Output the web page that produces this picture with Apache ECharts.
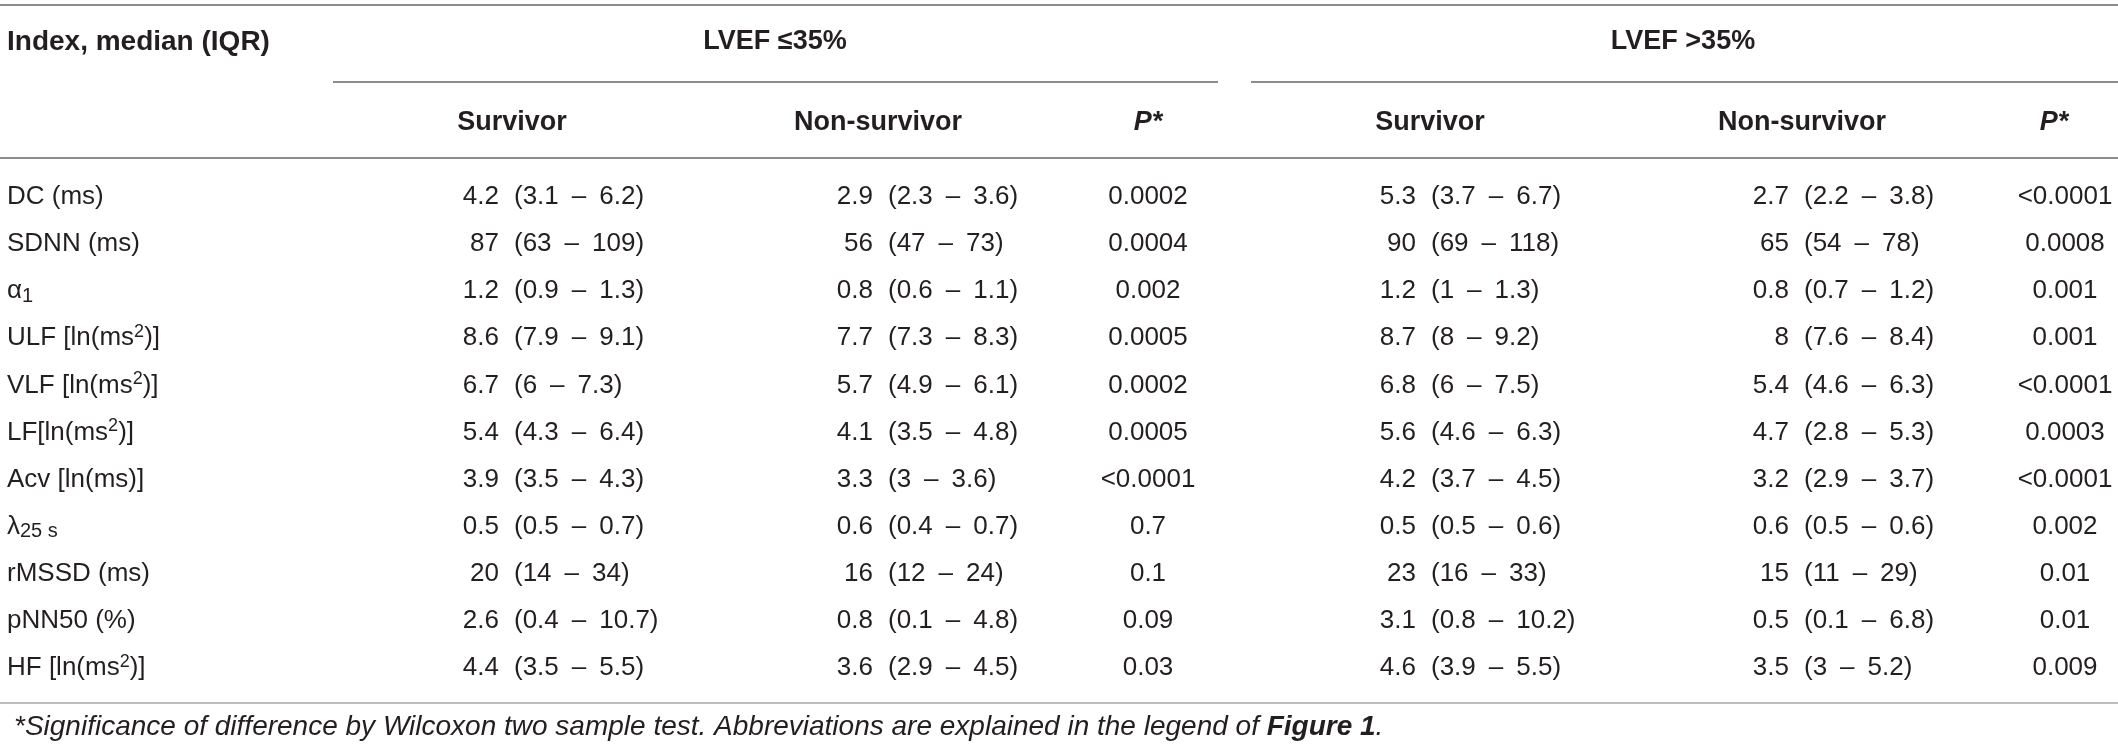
<!DOCTYPE html>
<html>
<head>
<meta charset="utf-8">
<script src="https://cdn.jsdelivr.net/npm/echarts@6/dist/echarts.min.js"></script>
<style>
  html, body { margin: 0; padding: 0; background: #fff; }
  #container { width: 2118px; height: 751px; }
</style>
</head>
<body>
<div id="container"></div>
<script>
// table content
var rowLabels = ['DC (ms)', 'SDNN (ms)', 'α_1', 'ULF [ln(ms^2)]', 'VLF [ln(ms^2)]', 'LF[ln(ms^2)]',
  'Acv [ln(ms)]', 'λ_25 s', 'rMSSD (ms)', 'pNN50 (%)', 'HF [ln(ms^2)]'];

var lowSurvivor = ['4.2 (3.1 – 6.2)', '87 (63 – 109)', '1.2 (0.9 – 1.3)', '8.6 (7.9 – 9.1)', '6.7 (6 – 7.3)',
  '5.4 (4.3 – 6.4)', '3.9 (3.5 – 4.3)', '0.5 (0.5 – 0.7)', '20 (14 – 34)', '2.6 (0.4 – 10.7)', '4.4 (3.5 – 5.5)'];
var lowNonSurvivor = ['2.9 (2.3 – 3.6)', '56 (47 – 73)', '0.8 (0.6 – 1.1)', '7.7 (7.3 – 8.3)', '5.7 (4.9 – 6.1)',
  '4.1 (3.5 – 4.8)', '3.3 (3 – 3.6)', '0.6 (0.4 – 0.7)', '16 (12 – 24)', '0.8 (0.1 – 4.8)', '3.6 (2.9 – 4.5)'];
var lowP = ['0.0002', '0.0004', '0.002', '0.0005', '0.0002', '0.0005', '<0.0001', '0.7', '0.1', '0.09', '0.03'];

var highSurvivor = ['5.3 (3.7 – 6.7)', '90 (69 – 118)', '1.2 (1 – 1.3)', '8.7 (8 – 9.2)', '6.8 (6 – 7.5)',
  '5.6 (4.6 – 6.3)', '4.2 (3.7 – 4.5)', '0.5 (0.5 – 0.6)', '23 (16 – 33)', '3.1 (0.8 – 10.2)', '4.6 (3.9 – 5.5)'];
var highNonSurvivor = ['2.7 (2.2 – 3.8)', '65 (54 – 78)', '0.8 (0.7 – 1.2)', '8 (7.6 – 8.4)', '5.4 (4.6 – 6.3)',
  '4.7 (2.8 – 5.3)', '3.2 (2.9 – 3.7)', '0.6 (0.5 – 0.6)', '15 (11 – 29)', '0.5 (0.1 – 6.8)', '3.5 (3 – 5.2)'];
var highP = ['<0.0001', '0.0008', '0.001', '0.001', '<0.0001', '0.0003', '<0.0001', '0.002', '0.01', '0.01', '0.009'];

var stubHeader = 'Index, median (IQR)';
var groupHeaders = ['LVEF ≤35%', 'LVEF >35%'];
var subHeaders = ['Survivor', 'Non-survivor', 'P*'];
var footnote = '*Significance of difference by Wilcoxon two sample test. Abbreviations are explained in the legend of ';
var footnoteRef = 'Figure 1';

// layout
var W = 2118, H = 751;
var FONT = '"Liberation Sans", Arial, sans-serif';
var INK = '#231f20';
var columns = [rowLabels, lowSurvivor, lowNonSurvivor, lowP, highSurvivor, highNonSurvivor, highP];
var colKind = ['label', 'iqr', 'iqr', 'p', 'iqr', 'iqr', 'p'];
var colAnchor = [7, 499, 873, 1148, 1416, 1789, 2065];
var subHeaderX = [512, 878, 1148, 1430, 1802, 2054];
var groupX = [775, 1683];
var rowTop = 173.5, rowBottom = 59.5;

var rich = {
  sup: { fontSize: 18, fontFamily: FONT, fill: INK, verticalAlign: 'top', lineHeight: 18 },
  sub: { fontSize: 20, fontFamily: FONT, fill: INK, verticalAlign: 'bottom', lineHeight: 16 }
};

function labelRich(s) {
  return s.replace(/\^(\w+)/g, '{sup|$1}').replace(/_(.+)$/, '{sub|$1}');
}

var cells = [];
rowLabels.forEach(function (r, i) {
  columns.forEach(function (col, c) { cells.push([c, i]); });
});

function renderItem(params, api) {
  var c = api.value(0), r = api.value(1);
  var pt = api.coord([colAnchor[c], r]);
  var s = columns[c][r];
  var base = { fill: INK, fontSize: 26, fontFamily: FONT, verticalAlign: 'middle', lineHeight: 30 };
  if (colKind[c] === 'label') {
    return { type: 'text', x: pt[0], y: pt[1],
      style: Object.assign({}, base, { text: labelRich(s), rich: rich, align: 'left' }) };
  }
  if (colKind[c] === 'p') {
    return { type: 'text', x: pt[0], y: pt[1],
      style: Object.assign({}, base, { text: s, align: 'center' }) };
  }
  var k = s.indexOf(' (');
  var med = s.slice(0, k);
  var iqr = s.slice(k + 1).replace(/ /g, '\u2002');
  return { type: 'group', children: [
    { type: 'text', x: pt[0], y: pt[1], style: Object.assign({}, base, { text: med, align: 'right' }) },
    { type: 'text', x: pt[0] + 15, y: pt[1], style: Object.assign({}, base, { text: iqr, align: 'left' }) }
  ] };
}

function hLine(x1, x2, y, color) {
  return { type: 'line', shape: { x1: x1, y1: y, x2: x2, y2: y }, style: { stroke: color, lineWidth: 2 } };
}
function headText(x, y, text, align, extra) {
  return { type: 'text', x: x, y: y, style: Object.assign({ text: text, fill: INK, fontSize: 27,
    fontWeight: 'bold', fontFamily: FONT, align: align, verticalAlign: 'middle' }, extra || {}) };
}

var graphics = [
  hLine(0, W, 5, '#8c8c8c'),
  hLine(333, 1218, 82, '#8c8c8c'),
  hLine(1251, W, 82, '#8c8c8c'),
  hLine(0, W, 158, '#8c8c8c'),
  hLine(0, W, 703, '#bdbdbd'),
  headText(7, 42, stubHeader, 'left', { fontSize: 28 }),
  headText(groupX[0], 42, groupHeaders[0], 'center'),
  headText(groupX[1], 42, groupHeaders[1], 'center')
];
subHeaderX.forEach(function (x, i) {
  var h = subHeaders[i % 3];
  graphics.push(headText(x, 123, h, 'center', h === 'P*' ? { fontStyle: 'italic' } : null));
});
graphics.push({ type: 'text', x: 14, y: 727, style: {
  text: '{i|' + footnote + '}{b|' + footnoteRef + '}{i|.}',
  verticalAlign: 'middle', align: 'left',
  rich: {
    i: { fontSize: 28, fontStyle: 'italic', fontFamily: FONT, fill: INK },
    b: { fontSize: 28, fontStyle: 'italic', fontWeight: 'bold', fontFamily: FONT, fill: INK }
  }
} });

var dom = document.getElementById('container');
var myChart = echarts.init(dom, null, { renderer: 'canvas' });

var option = {
  animation: false,
  grid: { left: 0, right: 0, top: rowTop, bottom: rowBottom },
  xAxis: { type: 'value', min: 0, max: W, show: false },
  yAxis: { type: 'category', data: rowLabels, inverse: true, show: false },
  series: [{
    type: 'custom',
    renderItem: renderItem,
    data: cells,
    clip: false,
    silent: true
  }],
  graphic: graphics
};

myChart.setOption(option);
window.addEventListener('resize', myChart.resize);
</script>
</body>
</html>
